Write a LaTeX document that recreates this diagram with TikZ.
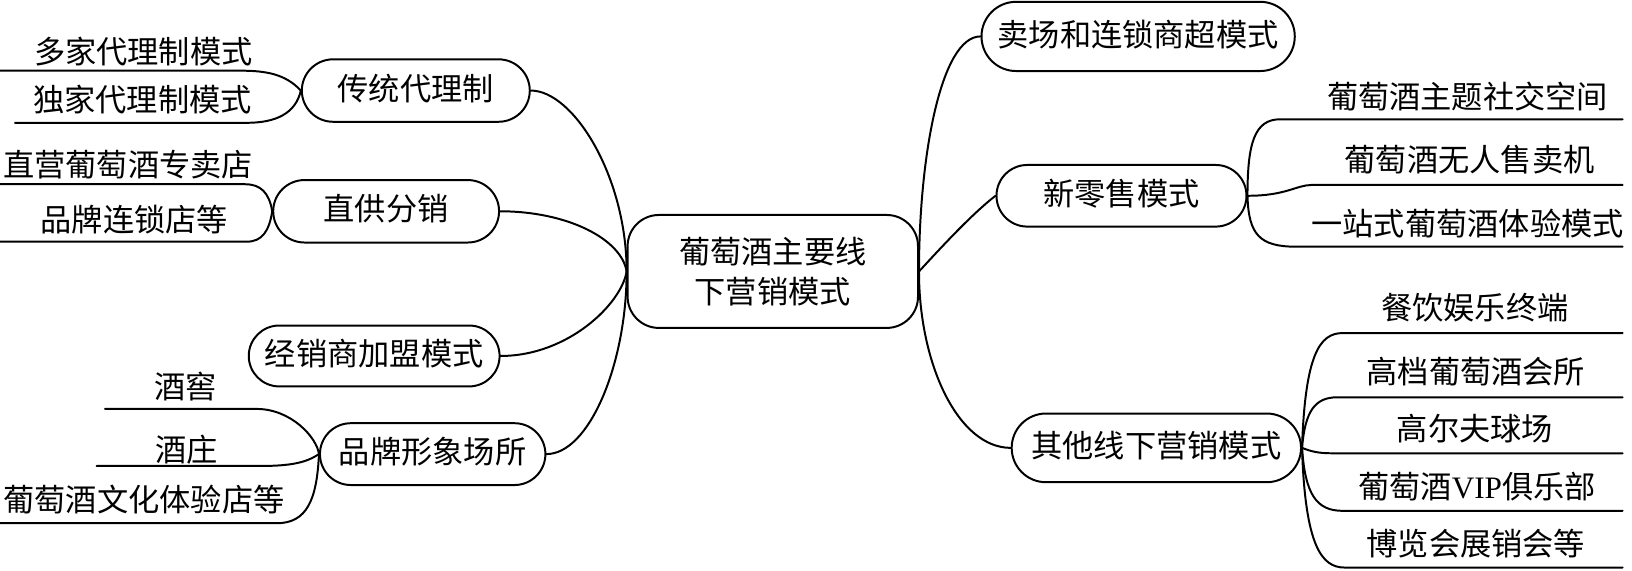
\documentclass[tikz,border=0pt]{standalone}
\usepackage{fontspec}
\setmainfont{Noto Sans CJK SC}
\newfontfamily\latinserif{Liberation Serif}
\usetikzlibrary{shapes.misc}
\newcommand\mmfont{\fontsize{30}{39}\selectfont}
\tikzset{
  link/.style={line width=1.9pt, line cap=round},
  box/.style={draw, line width=1.9pt, rounded rectangle, inner sep=0pt,
    font=\mmfont, text height=21.6pt, text depth=3pt},
  lbl/.style={inner sep=0pt, font=\mmfont, text height=24.9pt, text depth=2.1pt},
}
\begin{document}
\begin{tikzpicture}[x=1pt,y=-1pt]
\useasboundingbox (0,0) rectangle (1568,548.6);

% centre
\node[draw, line width=1.9pt, rounded corners=30pt, minimum width=279pt,
  minimum height=108.5pt, align=center, font=\mmfont, inner sep=0pt]
  (ctr) at (742.5,260.8) {葡萄酒主要线\\下营销模式};

% left branches
\node[box, minimum width=219pt, minimum height=60pt] (A) at (399.5,87) {传统代理制};
\node[box, minimum width=217pt, minimum height=60pt] (B) at (371,203) {直供分销};
\node[box, minimum width=241pt, minimum height=58.5pt] (C) at (359.5,342) {经销商加盟模式};
\node[box, minimum width=216.6pt, minimum height=59.4pt] (D) at (415.7,436.3) {品牌形象场所};

% right branches
\node[box, minimum width=301pt, minimum height=66.5pt] (E) at (1093.5,35) {卖场和连锁商超模式};
\node[box, minimum width=240.2pt, minimum height=59.2pt] (N) at (1077.5,188.1) {新零售模式};
\node[box, minimum width=278pt, minimum height=66pt] (F) at (1111,430.3) {其他线下营销模式};

% centre connectors
\draw[link] (ctr.west) .. controls +(0,-91) and +(41,0) .. (A.east);
\draw[link] (ctr.west) .. controls +(-5,-31) and +(65,0) .. (B.east);
\draw[link] (ctr.west) .. controls +(-5,31) and +(65,0) .. (C.east);
\draw[link] (ctr.west) .. controls +(0,89) and +(41,0) .. (D.east);
\draw[link] (ctr.east) .. controls +(0,-111) and +(-38,0) .. (E.west);
\draw[link] (ctr.east) .. controls +(23,-25) and +(-22,17) .. (N.west);
\draw[link] (ctr.east) .. controls +(0,90) and +(-50,0) .. (F.west);

% left leaves
\coordinate (a1e) at (230.5,67.9); \coordinate (a1s) at (0,67.9);
\coordinate (a2e) at (237,118);    \coordinate (a2s) at (14.4,118);
\coordinate (b1e) at (235.4,177);  \coordinate (b1s) at (0,177);
\coordinate (b2e) at (237,232.2);  \coordinate (b2s) at (0,232.2);
\coordinate (d1e) at (246.6,392.9); \coordinate (d1s) at (100.9,392.9);
\coordinate (d2e) at (250,447.7);  \coordinate (d2s) at (92.9,447.7);
\coordinate (d3e) at (265.8,502.7); \coordinate (d3s) at (0,502.7);

\draw[link] (A.west) .. controls +(-15,-16) and +(25,0) .. (a1e) -- (a1s);
\draw[link] (A.west) .. controls +(-5,22) and +(28,0) .. (a2e) -- (a2s);
\draw[link] (B.west) .. controls +(-3,-18) and +(15,0) .. (b1e) -- (b1s);
\draw[link] (B.west) .. controls +(-3,19) and +(15,0) .. (b2e) -- (b2s);
\draw[link] (D.west) .. controls +(-2,-16) and +(33,0) .. (d1e) -- (d1s);
\draw[link] (D.west) .. controls +(-12,8) and +(30,0) .. (d2e) -- (d2s);
\draw[link] (D.west) .. controls +(-2,44) and +(29,0) .. (d3e) -- (d3s);

\node[lbl] (a1) at (137.7,49.6) {多家代理制模式};
\node[lbl] (a2) at (137,96) {独家代理制模式};
\node[lbl] (b1) at (123,158.5) {直营葡萄酒专卖店};
\node[lbl] (b2) at (129,211.3) {品牌连锁店等};
\node[lbl] (d1) at (178,371.5) {酒窖};
\node[lbl] (d2) at (179,432) {酒庄};
\node[lbl] (d3) at (138.4,480.3) {葡萄酒文化体验店等};

% right leaves of N
\coordinate (n1s) at (1230,114.6); \coordinate (n1e) at (1559,114.6);
\coordinate (n2s) at (1260,177.7); \coordinate (n2e) at (1559,177.7);
\coordinate (n3s) at (1245,237);   \coordinate (n3e) at (1559,237);
\draw[link] (N.east) .. controls +(0,-50) and +(-25,0) .. (n1s) -- (n1e);
\draw[link] (N.east) .. controls +(37,0) and +(-15,0.3) .. (n2s) -- (n2e);
\draw[link] (N.east) .. controls +(1,37) and +(-35,0) .. (n3s) -- (n3e);
\node[lbl] (n1) at (1410,92.9) {葡萄酒主题社交空间};
\node[lbl] (n2) at (1412,153.7) {葡萄酒无人售卖机};
\node[lbl] (n3) at (1410,214.5) {一站式葡萄酒体验模式};

% right leaves of F
\coordinate (f1s) at (1290,320);   \coordinate (f1e) at (1559,320);
\coordinate (f2s) at (1285,381.7); \coordinate (f2e) at (1559,381.7);
\coordinate (f3s) at (1280,435.5); \coordinate (f3e) at (1559,435.5);
\coordinate (f4s) at (1290,490.8); \coordinate (f4e) at (1559,490.8);
\coordinate (f5s) at (1292,545.3); \coordinate (f5e) at (1559,545.3);
\draw[link] (F.east) .. controls +(3,-90) and +(-22,0) .. (f1s) -- (f1e);
\draw[link] (F.east) .. controls +(3,-35) and +(-22,0) .. (f2s) -- (f2e);
\draw[link] (F.east) .. controls +(10,4) and +(-12,0) .. (f3s) -- (f3e);
\draw[link] (F.east) .. controls +(3,45) and +(-25,0) .. (f4s) -- (f4e);
\draw[link] (F.east) .. controls +(3,95) and +(-22,0) .. (f5s) -- (f5e);
\node[lbl] (f1) at (1417,296) {餐饮娱乐终端};
\node[lbl] (f2) at (1418,357) {高档葡萄酒会所};
\node[lbl] (f3) at (1417,411.5) {高尔夫球场};
\node[lbl] (f4) at (1419,467.5) {葡萄酒{\latinserif VIP}俱乐部};
\node[lbl] (f5) at (1418,522) {博览会展销会等};
\end{tikzpicture}
\end{document}
